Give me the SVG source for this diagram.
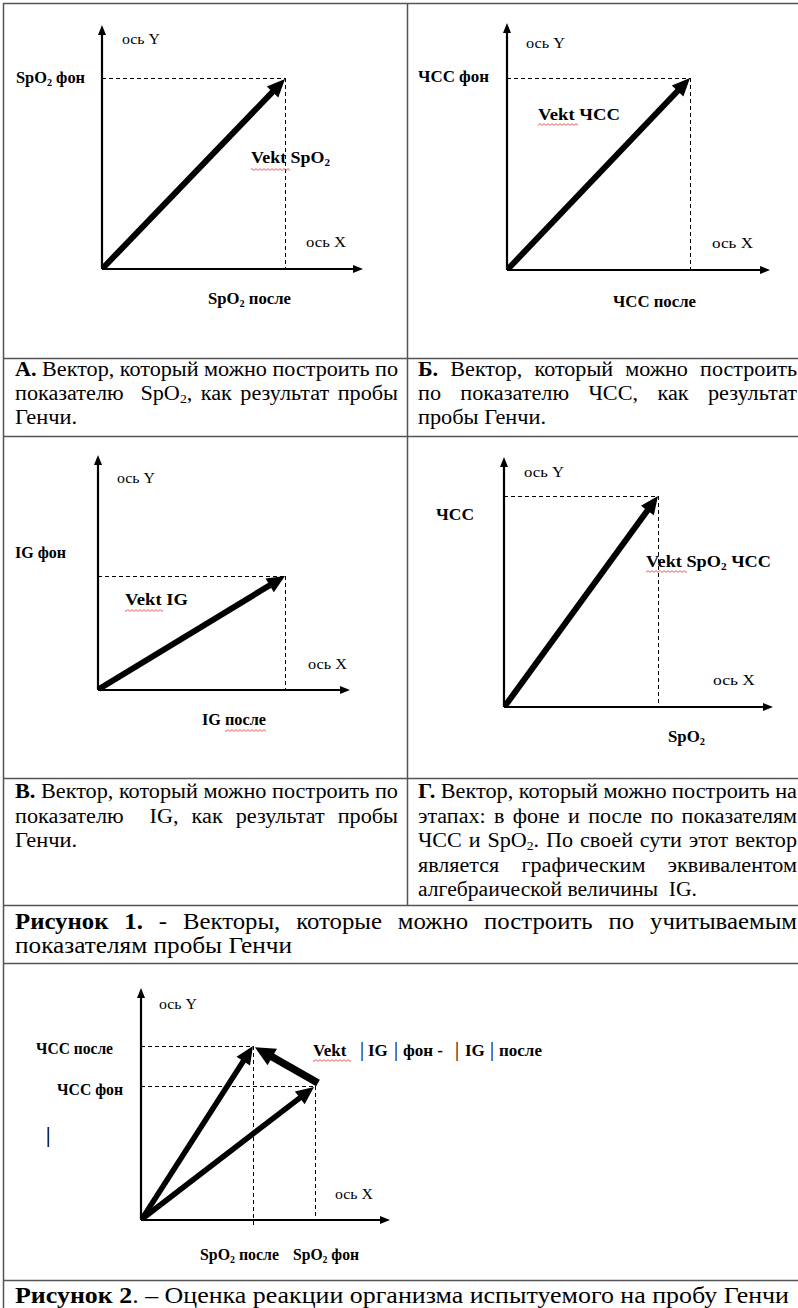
<svg xmlns="http://www.w3.org/2000/svg" width="798" height="1308" viewBox="0 0 798 1308">
<style>
.t{font-family:"Liberation Serif","Times New Roman",serif;fill:#000}
.ax{font-size:15.5px}
.lb{font-size:16px;font-weight:bold}
.vk{font-size:17px;font-weight:bold}
.cap{font-size:20px}
.fig{font-size:22.5px}
.b{font-weight:bold}
.sub{font-size:62%}
.bar{font-size:20px;font-weight:normal}
.grid{stroke:#555;stroke-width:1.5;fill:none}
.axis{stroke:#000;stroke-width:2.2;fill:none;marker-end:url(#ah)}
.vec{stroke:#000;stroke-width:6;fill:none;marker-end:url(#vh)}
.vec2{stroke:#000;stroke-width:5.5;fill:none;marker-end:url(#vh)}
.vec3{stroke:#000;stroke-width:7.5;fill:none;marker-end:url(#vh3)}
.dash{stroke:#000;stroke-width:1;stroke-dasharray:4 3;fill:none}
.wavy{fill:url(#wavy)}
</style>
<defs>
<marker id="ah" markerUnits="userSpaceOnUse" markerWidth="12" markerHeight="10" refX="5" refY="4" orient="auto" overflow="visible"><path d="M0,0 L10,4 L0,8 z" fill="#000"/></marker>
<marker id="vh" markerUnits="userSpaceOnUse" markerWidth="20" markerHeight="18" refX="8" refY="8" orient="auto" overflow="visible"><path d="M0,0 L18,8 L0,16 z" fill="#000"/></marker>
<marker id="vh3" markerUnits="userSpaceOnUse" markerWidth="22" markerHeight="20" refX="8" refY="9.5" orient="auto" overflow="visible"><path d="M0,0 L20,9.5 L0,19 z" fill="#000"/></marker>
<pattern id="wavy" width="4" height="3" patternUnits="userSpaceOnUse"><path d="M0,0.6 L2,2.4 L4,0.6" fill="none" stroke="#e03030" stroke-width="0.8"/></pattern>
</defs>
<rect width="798" height="1308" fill="#fff"/>

<g id="table-grid" class="grid">
<line x1="3" y1="3.5" x2="798" y2="3.5"/>
<line x1="3.5" y1="3" x2="3.5" y2="1308"/>
<line x1="407.5" y1="3" x2="407.5" y2="905.5"/>
<line x1="3" y1="358.5" x2="798" y2="358.5"/>
<line x1="3" y1="436.5" x2="798" y2="436.5"/>
<line x1="3" y1="778.5" x2="798" y2="778.5"/>
<line x1="3" y1="905.5" x2="798" y2="905.5"/>
<line x1="3" y1="963.5" x2="798" y2="963.5"/>
<line x1="3" y1="1280.5" x2="798" y2="1280.5"/>
</g>

<g id="panel-a">
<line class="dash" x1="102" y1="78.5" x2="285" y2="78.5"/>
<line class="dash" x1="285.5" y1="78" x2="285.5" y2="269"/>
<text class="t ax" x="122" y="44" textLength="38" lengthAdjust="spacingAndGlyphs">ось Y</text>
<text class="t lb" x="16" y="83" textLength="69" lengthAdjust="spacingAndGlyphs">SpO<tspan class="sub" dy="3">2</tspan><tspan dy="-3"> фон</tspan></text>
<text class="t vk" x="251" y="163" textLength="79" lengthAdjust="spacingAndGlyphs">Vekt SpO<tspan class="sub" dy="3">2</tspan></text>
<rect class="wavy" x="251" y="168" width="39" height="3"/>
<text class="t ax" x="306" y="247" textLength="40" lengthAdjust="spacingAndGlyphs">ось X</text>
<text class="t lb" x="208" y="304" textLength="83" lengthAdjust="spacingAndGlyphs">SpO<tspan class="sub" dy="3">2</tspan><tspan dy="-3"> после</tspan></text>
</g>

<g id="panel-b">
<line class="dash" x1="507" y1="78.5" x2="690" y2="78.5"/>
<line class="dash" x1="690.5" y1="78" x2="690.5" y2="270"/>
<text class="t ax" x="526" y="48" textLength="39" lengthAdjust="spacingAndGlyphs">ось Y</text>
<text class="t lb" x="418" y="82" textLength="71" lengthAdjust="spacingAndGlyphs">ЧСС фон</text>
<text class="t vk" x="538" y="120" textLength="82" lengthAdjust="spacingAndGlyphs">Vekt ЧСС</text>
<rect class="wavy" x="538" y="123" width="40" height="3"/>
<text class="t ax" x="712" y="248" textLength="41" lengthAdjust="spacingAndGlyphs">ось X</text>
<text class="t lb" x="613" y="307" textLength="83" lengthAdjust="spacingAndGlyphs">ЧСС после</text>
</g>

<g id="caption-a">
<text class="t cap" x="15" y="376" textLength="383" lengthAdjust="spacingAndGlyphs"><tspan class="b">А.</tspan> Вектор, который можно построить по</text>
<text class="t cap" x="15" y="400" textLength="383" lengthAdjust="spacingAndGlyphs" word-spacing="2.6">показателю&#160; SpO<tspan class="sub" dy="3">2</tspan><tspan dy="-3">, как результат пробы</tspan></text>
<text class="t cap" x="15" y="424" textLength="62" lengthAdjust="spacingAndGlyphs">Генчи.</text>
</g>

<g id="caption-b">
<text class="t cap" x="418" y="376" textLength="379" lengthAdjust="spacingAndGlyphs" word-spacing="6"><tspan class="b">Б.</tspan> Вектор, который можно построить</text>
<text class="t cap" x="418" y="400" textLength="379" lengthAdjust="spacingAndGlyphs" word-spacing="12.4">по показателю ЧСС, как результат</text>
<text class="t cap" x="418" y="424" textLength="128" lengthAdjust="spacingAndGlyphs">пробы Генчи.</text>
</g>

<g id="panel-c">
<line class="dash" x1="98" y1="576.5" x2="285" y2="576.5"/>
<line class="dash" x1="285.5" y1="576" x2="285.5" y2="690"/>
<text class="t ax" x="117" y="483" textLength="38" lengthAdjust="spacingAndGlyphs">ось Y</text>
<text class="t lb" x="15" y="558" textLength="51" lengthAdjust="spacingAndGlyphs">IG фон</text>
<text class="t vk" x="125" y="605" textLength="63" lengthAdjust="spacingAndGlyphs">Vekt IG</text>
<rect class="wavy" x="125" y="609" width="38" height="3"/>
<text class="t ax" x="308" y="669" textLength="39" lengthAdjust="spacingAndGlyphs">ось X</text>
<text class="t lb" x="202" y="725" textLength="64" lengthAdjust="spacingAndGlyphs">IG после</text>
<rect class="wavy" x="225" y="729" width="41" height="3"/>
</g>

<g id="panel-d">
<line class="dash" x1="504" y1="496.5" x2="658" y2="496.5"/>
<line class="dash" x1="658.5" y1="496" x2="658.5" y2="707"/>
<text class="t ax" x="524" y="477" textLength="40" lengthAdjust="spacingAndGlyphs">ось Y</text>
<text class="t lb" x="436" y="520" textLength="38" lengthAdjust="spacingAndGlyphs">ЧСС</text>
<text class="t vk" x="646" y="567" textLength="125" lengthAdjust="spacingAndGlyphs">Vekt SpO<tspan class="sub" dy="3">2</tspan><tspan dy="-3"> ЧСС</tspan></text>
<rect class="wavy" x="646" y="570" width="41" height="3"/>
<text class="t ax" x="713" y="685" textLength="42" lengthAdjust="spacingAndGlyphs">ось X</text>
<text class="t lb" x="668" y="742" textLength="37" lengthAdjust="spacingAndGlyphs">SpO<tspan class="sub" dy="3">2</tspan></text>
</g>

<g id="caption-c">
<text class="t cap" x="15" y="798" textLength="383" lengthAdjust="spacingAndGlyphs"><tspan class="b">В.</tspan> Вектор, который можно построить по</text>
<text class="t cap" x="15" y="822.5" textLength="383" lengthAdjust="spacingAndGlyphs" word-spacing="6.7">показателю&#160; IG, как результат пробы</text>
<text class="t cap" x="15" y="847" textLength="62" lengthAdjust="spacingAndGlyphs">Генчи.</text>
</g>

<g id="caption-d">
<text class="t cap" x="418" y="798" textLength="379" lengthAdjust="spacingAndGlyphs"><tspan class="b">Г.</tspan> Вектор, который можно построить на</text>
<text class="t cap" x="418" y="822.5" textLength="379" lengthAdjust="spacingAndGlyphs" word-spacing="2.6">этапах: в фоне и после по показателям</text>
<text class="t cap" x="418" y="847" textLength="379" lengthAdjust="spacingAndGlyphs" word-spacing="1.2">ЧСС и SpO<tspan class="sub" dy="3">2</tspan><tspan dy="-3">. По своей сути этот вектор</tspan></text>
<text class="t cap" x="418" y="871.5" textLength="379" lengthAdjust="spacingAndGlyphs" word-spacing="15">является графическим эквивалентом</text>
<text class="t cap" x="418" y="896" textLength="279" lengthAdjust="spacingAndGlyphs">алгебраической величины&#160; IG.</text>
</g>

<g id="figure-1-title">
<text class="t fig" x="15" y="929" textLength="782" lengthAdjust="spacingAndGlyphs" word-spacing="8.8"><tspan class="b">Рисунок 1.</tspan> - Векторы, которые можно построить по учитываемым</text>
<text class="t fig" x="15" y="953" textLength="277" lengthAdjust="spacingAndGlyphs">показателям пробы Генчи</text>
</g>

<g id="figure-2">
<line class="dash" x1="141" y1="1046.5" x2="253" y2="1046.5"/>
<line class="dash" x1="141" y1="1086.5" x2="315" y2="1086.5"/>
<line class="dash" x1="253.5" y1="1046" x2="253.5" y2="1228"/>
<line class="dash" x1="315.5" y1="1086" x2="315.5" y2="1220"/>
<text class="t ax" x="159" y="1009" textLength="38" lengthAdjust="spacingAndGlyphs">ось Y</text>
<text class="t lb" x="36" y="1054" textLength="77" lengthAdjust="spacingAndGlyphs">ЧСС после</text>
<text class="t lb" x="57" y="1095" textLength="66" lengthAdjust="spacingAndGlyphs">ЧСС фон</text>
<text class="t" x="46" y="1142" font-size="20" font-weight="bold">|</text>
<text class="t vk" y="1056"><tspan x="313">Vekt</tspan><tspan class="bar" x="360">|</tspan><tspan x="368">IG</tspan><tspan class="bar" x="394">|</tspan><tspan x="403">фон -</tspan><tspan class="bar" x="455">|</tspan><tspan x="465">IG</tspan><tspan class="bar" x="490">|</tspan><tspan x="499">после</tspan></text>
<rect class="wavy" x="313" y="1059" width="38" height="3"/>
<text class="t ax" x="335" y="1199" textLength="38" lengthAdjust="spacingAndGlyphs">ось X</text>
<text class="t lb" x="200" y="1260" textLength="79" lengthAdjust="spacingAndGlyphs">SpO<tspan class="sub" dy="3">2</tspan><tspan dy="-3"> после</tspan></text>
<text class="t lb" x="293" y="1260" textLength="66" lengthAdjust="spacingAndGlyphs">SpO<tspan class="sub" dy="3">2</tspan><tspan dy="-3"> фон</tspan></text>
</g>

<g id="figure-2-title">
<text class="t fig" x="15" y="1303" font-size="23" textLength="774" lengthAdjust="spacingAndGlyphs"><tspan class="b">Рисунок 2</tspan>. – Оценка реакции организма испытуемого на пробу Генчи</text>
</g>

<g id="connectors">
<line class="axis" x1="102" y1="269" x2="102" y2="30"/>
<line class="axis" x1="102" y1="269" x2="358" y2="269"/>
<line class="vec" x1="103" y1="268" x2="278.1" y2="86.2"/>

<line class="axis" x1="507" y1="270" x2="507" y2="28"/>
<line class="axis" x1="507" y1="270" x2="765" y2="270"/>
<line class="vec" x1="508" y1="269" x2="683.1" y2="85.2"/>

<line class="axis" x1="98" y1="690" x2="98" y2="460"/>
<line class="axis" x1="98" y1="690" x2="345" y2="690"/>
<line class="vec" x1="99" y1="689" x2="276.5" y2="581.2"/>

<line class="axis" x1="504" y1="707" x2="504" y2="462"/>
<line class="axis" x1="504" y1="707" x2="768" y2="707"/>
<line class="vec" x1="505" y1="706" x2="652.1" y2="504.1"/>

<line class="axis" x1="141" y1="1220" x2="141" y2="993"/>
<line class="axis" x1="141" y1="1220" x2="385" y2="1220"/>
<line class="vec2" x1="142" y1="1219" x2="247.6" y2="1054.4"/>
<line class="vec2" x1="142" y1="1219" x2="306.1" y2="1093.1"/>
<line class="vec3" x1="318" y1="1083" x2="265.3" y2="1053.1"/>
</g>
</svg>
